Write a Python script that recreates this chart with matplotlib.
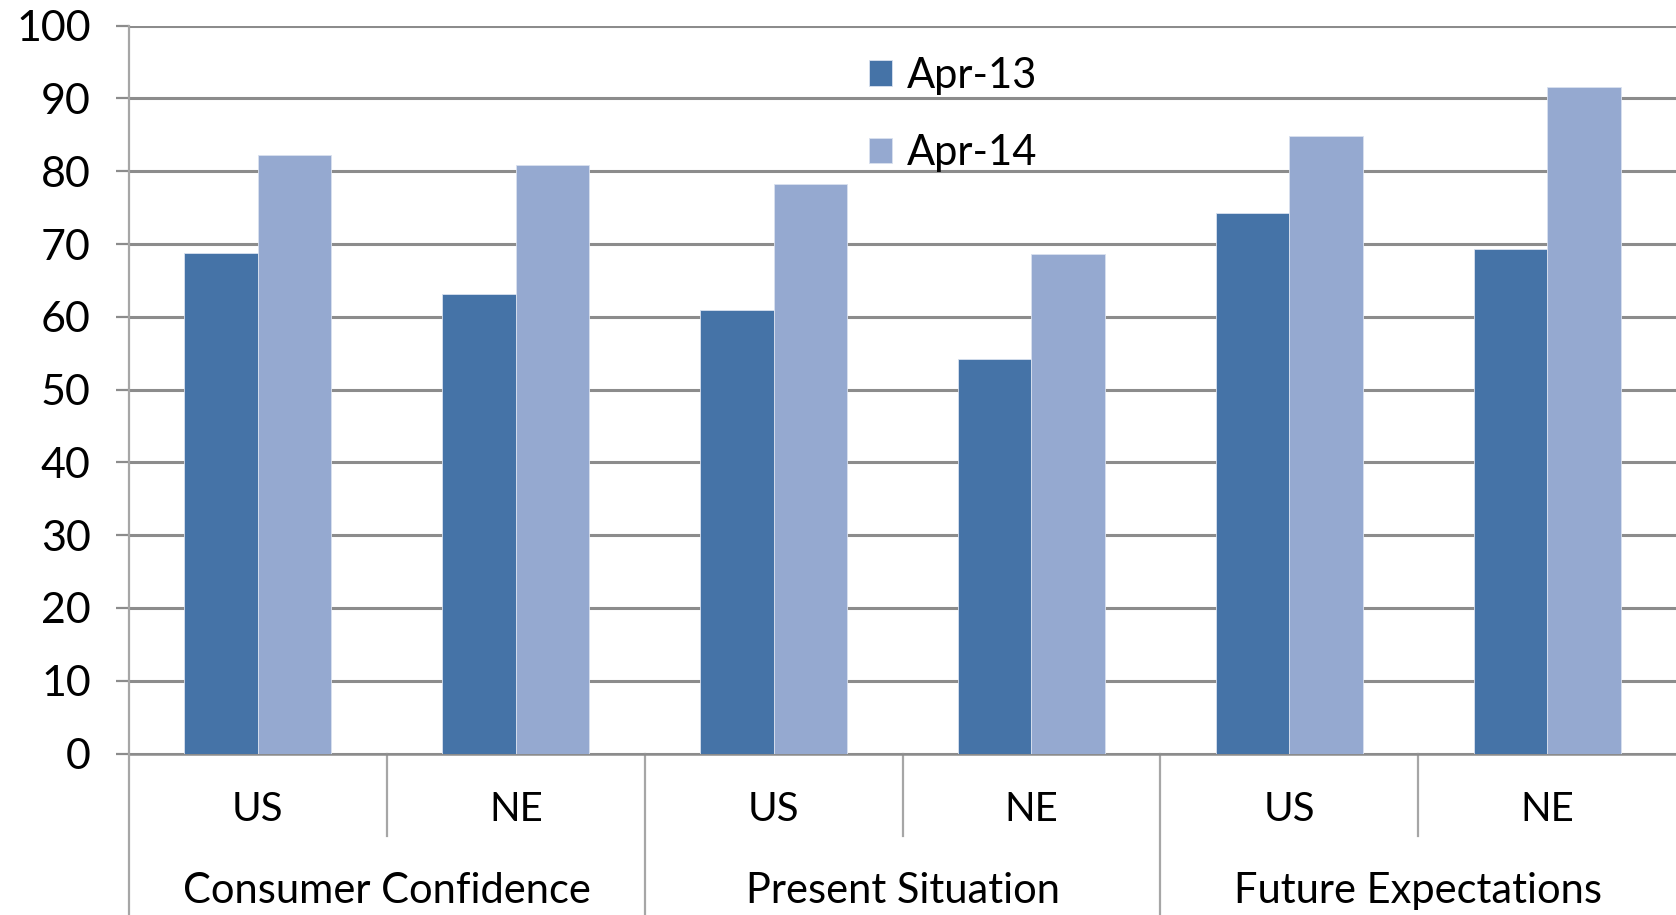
import matplotlib.pyplot as plt
import matplotlib.transforms as mtransforms
import numpy as np

plt.rcParams['font.family'] = ['Lato', 'DejaVu Sans']

groups = ["Consumer Confidence", "Present Situation", "Future Expectations"]
regions = ["US", "NE", "US", "NE", "US", "NE"]
apr13 = [68.8, 63.2, 60.9, 54.2, 74.2, 69.3]
apr14 = [82.2, 80.8, 78.2, 68.6, 84.8, 91.6]
series = ["Apr-13", "Apr-14"]
yticks = list(range(0, 101, 10))

c13 = "#4573a7"
c14 = "#95a9d0"
grid_c = "#8c8c8c"
axis_c = "#a6a6a6"

fig = plt.figure(figsize=(16.76, 9.15), dpi=100)
ax = fig.add_axes([129 / 1676, 161.5 / 915, 1 - 129 / 1676, (753.5 - 25.7) / 915])

x = np.arange(len(regions))
w = 0.285
ax.bar(x - w / 2, apr13, w, color=c13, label=series[0], zorder=3,
       edgecolor="#d9e1ef", linewidth=0.6)
ax.bar(x + w / 2, apr14, w, color=c14, label=series[1], zorder=3,
       edgecolor="#d9e1ef", linewidth=0.6)

ax.set_xlim(-0.5, len(regions) - 0.5)
ax.set_ylim(0, 100)
ax.set_yticks(yticks)
ax.yaxis.grid(True, color=grid_c, linewidth=2.2, zorder=0)
ax.set_axisbelow(True)
ax.tick_params(axis='y', length=9.5, width=1.6, color=grid_c, pad=18, labelsize=31)
ax.tick_params(axis='x', length=0, pad=27, labelsize=29)
ax.set_xticks(x)
ax.set_xticklabels(regions)

for s in ["top", "right"]:
    ax.spines[s].set_visible(False)
ax.spines["bottom"].set_color(grid_c)
ax.spines["bottom"].set_linewidth(1.8)
ax.spines["left"].set_visible(False)

trans = mtransforms.blended_transform_factory(ax.transData, ax.transAxes)
# left axis line runs to the bottom of the figure
ax.plot([-0.5, -0.5], [1, -0.25], transform=trans, color=axis_c, lw=1.6,
        clip_on=False, zorder=4)
# short separators between regions, long ones between groups
for b in [0.5, 2.5, 4.5]:
    ax.plot([b, b], [0, -0.1134], transform=trans, color=axis_c, lw=1.6, clip_on=False)
for b in [1.5, 3.5]:
    ax.plot([b, b], [0, -0.25], transform=trans, color=axis_c, lw=1.6, clip_on=False)

for i, g in enumerate(groups):
    ax.text(2 * i + 0.5, -0.189, g, transform=trans, ha="center", va="center",
            fontsize=30)

leg = ax.legend(loc="upper left", bbox_to_anchor=(852 / 1676, 1 - 40 / 915),
                bbox_transform=fig.transFigure, frameon=False, fontsize=30,
                handlelength=0.56, handleheight=0.56, handletextpad=0.35,
                labelspacing=0.95, borderaxespad=0)

fig.savefig("out.png", dpi=100)
